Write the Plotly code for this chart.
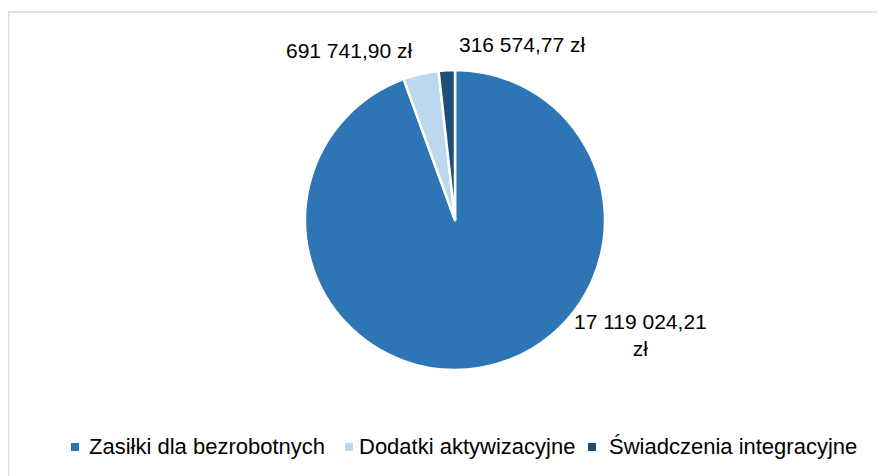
import plotly.graph_objects as go

categories = ["Zasiłki dla bezrobotnych", "Dodatki aktywizacyjne", "Świadczenia integracyjne"]
values = [17119024.21, 691741.90, 316574.77]
colors = ["#2E75B6", "#BDD7EE", "#1F4E79"]

W, H = 885, 476

def fmt(v):
    s = f"{v:,.2f}"
    ip, dp = s.split(".")
    return ip.replace(",", " ") + "," + dp + " zł"

fig = go.Figure(go.Pie(
    labels=categories,
    values=values,
    marker=dict(colors=colors, line=dict(color="white", width=2.5)),
    sort=False,
    direction="clockwise",
    rotation=0,
    textinfo="none",
    hoverinfo="label+value",
    showlegend=False,
    domain=dict(x=[297 / W, 597 / W], y=[1 - 362 / H, 1 - 62 / H]),
))

font = dict(family="Liberation Sans, Arial, sans-serif", size=21, color="#000000")
lfont = dict(family="Liberation Sans, Arial, sans-serif", size=22, color="#000000")

# data-label positions (layout), text from data
label_pos = [(632, 327), (341, 42), (514, 37)]
label_text = [
    fmt(values[0]).replace(" zł", "<br>zł"),
    fmt(values[1]),
    fmt(values[2]),
]
annotations = []
for (px, py), t in zip(label_pos, label_text):
    annotations.append(dict(
        x=px / W, y=1 - py / H, xref="paper", yref="paper",
        text=t, showarrow=False, xanchor="center", yanchor="middle",
        font=font,
    ))

# legend built from the category list / colour list
legend_marker_x = [63, 337, 580]
legend_text_x = [79, 349, 599]
legend_y = 438.5
shapes = [dict(
    type="rect", xref="paper", yref="paper",
    x0=0.5 / W, y0=1 - 4 / H, x1=1.02, y1=-0.02,
    line=dict(color="#D9D9D9", width=1.5),
    fillcolor="rgba(0,0,0,0)", layer="below",
)]
for cat, col, mx, tx in zip(categories, colors, legend_marker_x, legend_text_x):
    shapes.append(dict(
        type="rect", xref="paper", yref="paper",
        x0=mx / W, x1=(mx + 8) / W,
        y0=1 - (legend_y + 4.5) / H, y1=1 - (legend_y - 3.5) / H,
        line=dict(width=0), fillcolor=col,
    ))
    annotations.append(dict(
        x=tx / W, y=1 - legend_y / H, xref="paper", yref="paper",
        text=cat, showarrow=False, xanchor="left", yanchor="middle",
        font=lfont,
    ))

fig.update_layout(
    width=W, height=H,
    margin=dict(l=0, r=0, t=0, b=0),
    paper_bgcolor="white",
    plot_bgcolor="white",
    annotations=annotations,
    showlegend=False,
    shapes=shapes,
)

fig.write_html("out.html")
